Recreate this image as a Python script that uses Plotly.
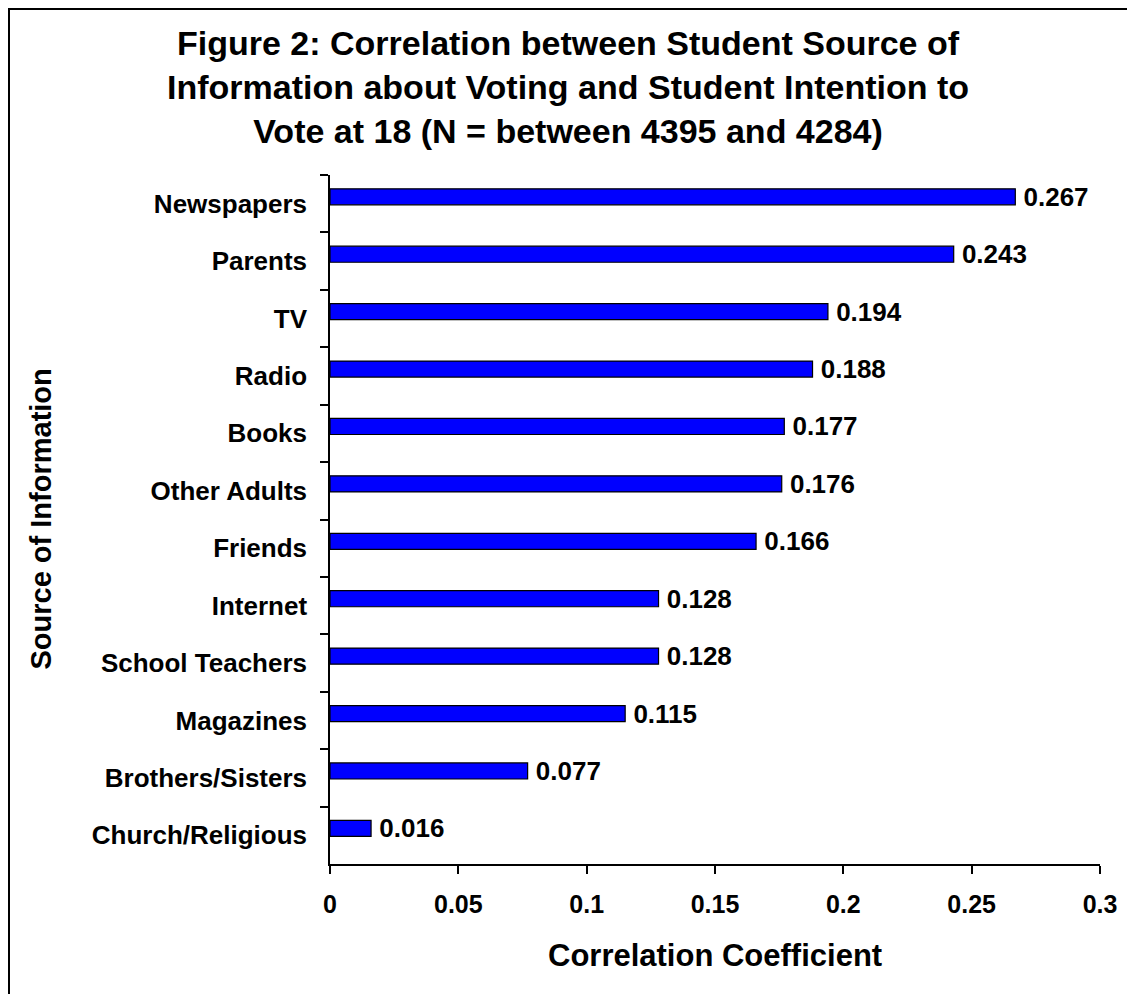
import plotly.graph_objects as go

sources = ["Newspapers", "Parents", "TV", "Radio", "Books", "Other Adults",
           "Friends", "Internet", "School Teachers", "Magazines",
           "Brothers/Sisters", "Church/Religious"]
correlations = [0.267, 0.243, 0.194, 0.188, 0.177, 0.176,
                0.166, 0.128, 0.128, 0.115, 0.077, 0.016]
x_ticks = [0, 0.05, 0.1, 0.15, 0.2, 0.25, 0.3]
x_tick_labels = ["0", "0.05", "0.1", "0.15", "0.2", "0.25", "0.3"]

title_text = ("Figure 2: Correlation between Student Source of<br>"
              "Information about Voting and Student Intention to<br>"
              "Vote at 18 (N = between 4395 and 4284)")

# page has an 8px body margin; figure pixel = page pixel - 8
W, H = 1127, 986
ML, MR, MT, MB = 322, 35, 167, 130
FONT = "Liberation Sans, Arial, sans-serif"

fig = go.Figure(go.Bar(
    x=correlations, y=sources, orientation="h",
    width=0.28, offset=-0.26,
    marker=dict(color="#0000FF", line=dict(color="black", width=1.2)),
    text=["\u2009" + f"{v:.3f}" for v in correlations],
    textposition="outside",
    constraintext="none",
    textfont=dict(family=FONT, size=26, color="black", weight="bold"),
    cliponaxis=False,
))

pw = W - ML - MR
ph = H - MT - MB

def px_x(p):
    return (p - ML) / pw

def px_y(p):
    return (H - MB - p) / ph

fig.update_layout(
    width=W, height=H,
    margin=dict(l=ML, r=MR, t=MT, b=MB, autoexpand=False),
    paper_bgcolor="white", plot_bgcolor="white",
    showlegend=False,
    xaxis=dict(range=[0, 0.3], tickvals=x_ticks, ticktext=x_tick_labels,
               showgrid=False, zeroline=False, showline=True,
               linecolor="black", linewidth=1.5,
               ticks="outside", ticklen=8, tickcolor="black", tickwidth=1.5,
               ticklabelstandoff=9,
               tickfont=dict(family=FONT, size=25, color="black", weight="bold")),
    yaxis=dict(categoryorder="array", categoryarray=sources, autorange="reversed",
               showgrid=False, zeroline=False, showline=True,
               linecolor="black", linewidth=1.5,
               ticks="outside", ticklen=8, tickcolor="black", tickwidth=1.5,
               tickson="boundaries", ticklabelstandoff=16,
               tickfont=dict(family=FONT, size=26, color="black", weight="bold")),
    annotations=[
        dict(text=title_text, xref="paper", yref="paper",
             x=px_x(1135 / 2 - 8), y=px_y(79), xanchor="center", yanchor="middle",
             align="center", showarrow=False,
             font=dict(family=FONT, size=34, color="black", weight="bold")),
        dict(text="Correlation Coefficient", xref="paper", yref="paper",
             x=0.5, y=px_y(947), xanchor="center", yanchor="middle",
             showarrow=False,
             font=dict(family=FONT, size=31, color="black", weight="bold")),
        dict(text="Source of Information", xref="paper", yref="paper",
             x=px_x(32), y=0.5, xanchor="center", yanchor="middle",
             textangle=-90, showarrow=False,
             font=dict(family=FONT, size=29, color="black", weight="bold")),
    ],
    shapes=[
        dict(type="rect", xref="paper", yref="paper",
             x0=px_x(1), x1=px_x(1160), y0=px_y(1020), y1=px_y(1),
             line=dict(color="black", width=2), fillcolor="rgba(0,0,0,0)",
             layer="below"),
    ],
)

fig.write_html("out.html")
